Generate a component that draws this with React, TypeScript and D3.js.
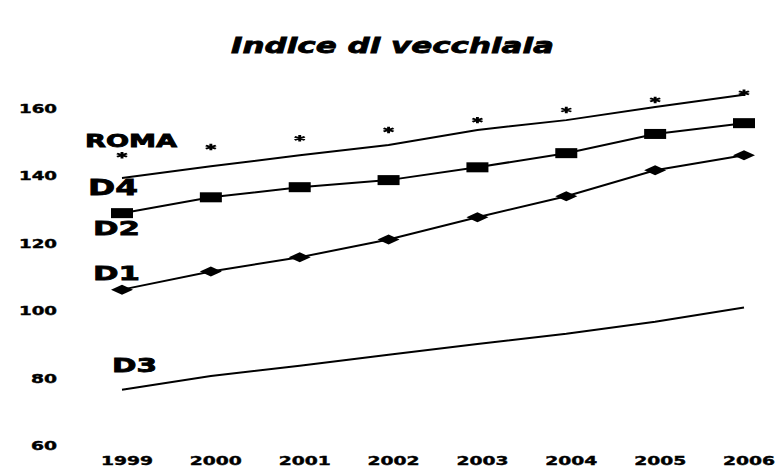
import React from "react";
import * as d3 from "d3";

const years = ["1999", "2000", "2001", "2002", "2003", "2004", "2005", "2006"];
const yTicks = [60, 80, 100, 120, 140, 160];
const roma = [146, 148.4, 151, 153.5, 156.4, 159.4, 162.4, 164.5];
const d4 = [139.2, 142.7, 146, 149, 153.5, 156.4, 160.3, 163.9];
const d2 = [128.8, 133.5, 136.5, 138.6, 142.4, 146.6, 152.3, 155.5];
const d1 = [106.1, 111.5, 115.7, 121, 127.6, 133.8, 141.5, 146];
const d3v = [76.4, 80.5, 83.5, 86.8, 90, 93, 96.6, 100.8];

const W = 776;
const H = 472;
const font = "'DejaVu Sans', sans-serif";

export default function App() {
  const x = d3.scalePoint<string>().domain(years).range([122, 744]);
  const y = d3.scaleLinear().domain([60, 160]).range([445, 108]);
  const line = d3
    .line<number>()
    .x((_, i) => x(years[i]) as number)
    .y((v) => y(v));
  const star = d3.symbol(d3.symbolAsterisk, 36)() as string;

  const seriesLabels = [
    { t: "ROMA", x: 85, y: 147, fs: 17, len: 92 },
    { t: "D4", x: 88, y: 195, fs: 22, len: 50 },
    { t: "D2", x: 93, y: 235, fs: 20, len: 47 },
    { t: "D1", x: 93, y: 280, fs: 20, len: 47 },
    { t: "D3", x: 112, y: 372, fs: 19, len: 45 },
  ];

  return (
    <svg
      width={W}
      height={H}
      style={{ position: "absolute", left: 0, top: 0, background: "#fff" }}
    >
      <rect width={W} height={H} fill="#fff" />
      <text
        x={231}
        y={53}
        fontFamily={font}
        fontWeight="bold"
        fontStyle="italic"
        fontSize={22}
        textLength={323}
        lengthAdjust="spacingAndGlyphs"
        stroke="#000"
        strokeWidth={0.8}
      >
        Indice di vecchiaia
      </text>

      {yTicks.map((t) => (
        <text
          key={t}
          x={57}
          y={y(t) + 5}
          textAnchor="end"
          fontFamily={font}
          fontWeight="bold"
          fontSize={12}
          textLength={t >= 100 ? 38 : 26}
          lengthAdjust="spacingAndGlyphs"
          stroke="#000"
          strokeWidth={0.4}
        >
          {t}
        </text>
      ))}

      {years.map((yr) => (
        <text
          key={yr}
          x={(x(yr) as number) + 5}
          y={465}
          textAnchor="middle"
          fontFamily={font}
          fontWeight="bold"
          fontSize={12}
          textLength={52}
          lengthAdjust="spacingAndGlyphs"
          stroke="#000"
          strokeWidth={0.4}
        >
          {yr}
        </text>
      ))}

      {[d4, d2, d1, d3v].map((s, k) => (
        <path key={k} d={line(s) as string} fill="none" stroke="#000" strokeWidth={2} />
      ))}

      {d2.map((v, i) => (
        <rect
          key={"s" + i}
          x={(x(years[i]) as number) - 11}
          y={y(v) - 5}
          width={22}
          height={10}
          fill="#000"
        />
      ))}

      {d1.map((v, i) => {
        const cx = x(years[i]) as number;
        const cy = y(v);
        return (
          <path
            key={"d" + i}
            d={`M${cx - 11},${cy} L${cx},${cy - 5} L${cx + 11},${cy} L${cx},${cy + 5} Z`}
            fill="#000"
          />
        );
      })}

      {roma.map((v, i) => (
        <path
          key={"r" + i}
          d={star}
          transform={`translate(${x(years[i])},${y(v)}) scale(1.6,0.9)`}
          fill="none"
          stroke="#000"
          strokeWidth={1.8}
        />
      ))}

      {seriesLabels.map((l) => (
        <text
          key={l.t}
          x={l.x}
          y={l.y}
          fontFamily={font}
          fontWeight="bold"
          fontSize={l.fs}
          textLength={l.len}
          lengthAdjust="spacingAndGlyphs"
          stroke="#000"
          strokeWidth={0.8}
        >
          {l.t}
        </text>
      ))}
    </svg>
  );
}
